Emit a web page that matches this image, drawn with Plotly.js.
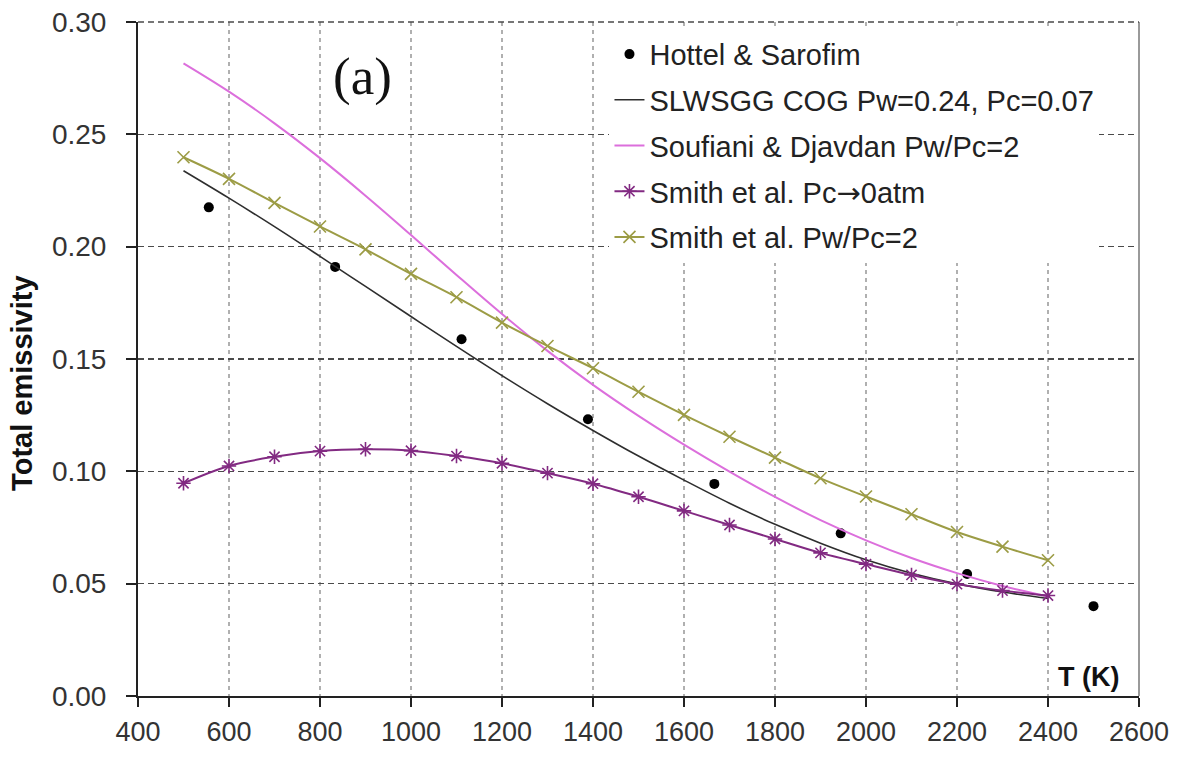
<!DOCTYPE html>
<html>
<head>
<meta charset="utf-8">
<script src="https://cdn.plot.ly/plotly-3.0.1.min.js"></script>
<style>html,body{margin:0;padding:0;background:#fff;}#chart{width:1196px;height:759px;}</style>
</head>
<body>
<div id="chart"></div>
<script>
// Temperatures (K)
const hottelT = [555.6, 833.3, 1111.1, 1388.9, 1666.7, 1944.4, 2222.2, 2500.0];
const hottelEps = [0.2175, 0.1910, 0.1588, 0.1232, 0.0944, 0.0724, 0.0543, 0.0400];

const curveT = [500, 600, 700, 800, 900, 1000, 1100, 1200, 1300, 1400, 1500, 1600, 1700, 1800, 1900, 2000, 2100, 2200, 2300, 2400];

const slwsggEps = [0.2338, 0.2216, 0.2089, 0.1957, 0.1823, 0.1689, 0.1556, 0.1426, 0.1301, 0.1182, 0.1068, 0.0961, 0.0858, 0.0764, 0.0680, 0.0606, 0.0546, 0.0499, 0.0463, 0.0434];
const soufianiEps = [0.2816, 0.2690, 0.2549, 0.2394, 0.2227, 0.2052, 0.1874, 0.1700, 0.1536, 0.1385, 0.1247, 0.1119, 0.0999, 0.0886, 0.0783, 0.0693, 0.0614, 0.0547, 0.0490, 0.0443];
const smithPc0Eps = [0.0947, 0.1024, 0.1065, 0.1090, 0.1098, 0.1092, 0.1068, 0.1036, 0.0992, 0.0945, 0.0887, 0.0824, 0.0761, 0.0699, 0.0637, 0.0587, 0.0539, 0.0498, 0.0469, 0.0447];
const smithRatioEps = [0.2398, 0.2302, 0.2195, 0.2090, 0.1988, 0.1879, 0.1775, 0.1662, 0.1558, 0.1459, 0.1354, 0.1251, 0.1154, 0.1061, 0.0969, 0.0888, 0.0809, 0.0730, 0.0665, 0.0604];

const seriesNames = [
  "Hottel & Sarofim",
  "SLWSGG COG Pw=0.24, Pc=0.07",
  "Soufiani & Djavdan Pw/Pc=2",
  "Smith et al. Pc<span style=\"font-family:'DejaVu Sans'\">\u2192</span>0atm",
  "Smith et al. Pw/Pc=2"
];

const xTicks = [400, 600, 800, 1000, 1200, 1400, 1600, 1800, 2000, 2200, 2400, 2600];
const yTicks = [0.00, 0.05, 0.10, 0.15, 0.20, 0.25, 0.30];

const traces = [
  {
    x: hottelT, y: hottelEps, name: seriesNames[0], mode: 'markers', legendgroup: 'g1',
    marker: {symbol: 'circle', size: 10, color: '#000000'}
  },
  {
    x: curveT, y: slwsggEps, name: seriesNames[1], mode: 'lines', legendgroup: 'g2',
    line: {color: '#2e2e2e', width: 1.6, shape: 'spline'}
  },
  {
    x: curveT, y: soufianiEps, name: seriesNames[2], mode: 'lines', legendgroup: 'g3',
    line: {color: '#dc6fdc', width: 2, shape: 'spline'}
  },
  {
    x: curveT, y: smithPc0Eps, name: seriesNames[3], mode: 'lines+markers', legendgroup: 'g4',
    line: {color: '#822a82', width: 2, shape: 'spline'},
    marker: {symbol: 'asterisk-open', size: 12, line: {color: '#8a2a8a', width: 1.6}}
  },
  {
    x: curveT, y: smithRatioEps, name: seriesNames[4], mode: 'lines+markers', legendgroup: 'g5',
    line: {color: '#9c9c45', width: 2, shape: 'spline'},
    marker: {symbol: 'x-thin-open', size: 12, line: {color: '#a8a840', width: 1.6}}
  }
];

const layout = {
  width: 1196, height: 759,
  margin: {l: 138, r: 57, t: 22, b: 63},
  paper_bgcolor: '#ffffff', plot_bgcolor: '#ffffff',
  font: {family: 'Liberation Sans, Arial, sans-serif', color: '#333333'},
  showlegend: true,
  legend: {
    x: 0.471, y: 0.99, xanchor: 'left', yanchor: 'top',
    bgcolor: '#ffffff', borderwidth: 0,
    font: {size: 29, color: '#222222', family: 'Liberation Sans, Arial, sans-serif'},
    traceorder: 'grouped', tracegroupgap: 5
  },
  xaxis: {
    range: [400, 2600], tickmode: 'array', tickvals: xTicks, ticktext: xTicks.map(String),
    showline: true, linecolor: '#222222', linewidth: 2,
    ticks: 'outside', ticklen: 9, tickcolor: '#222222', tickwidth: 2,
    tickfont: {size: 27, color: '#333333'}, ticklabelstandoff: 2,
    showgrid: true, gridcolor: '#b0b0b0', gridwidth: 1.3, griddash: '4px,4px',
    zeroline: false
  },
  yaxis: {
    range: [0, 0.30], tickmode: 'array', tickvals: yTicks, ticktext: yTicks.map(v => v.toFixed(2)),
    showline: true, linecolor: '#222222', linewidth: 2,
    ticks: 'outside', ticklen: 10, tickcolor: '#222222', tickwidth: 2,
    tickfont: {size: 28, color: '#333333'}, ticklabelstandoff: 14,
    showgrid: true, gridcolor: '#4a4a4a', gridwidth: 1.4, griddash: '6px,4px',
    zeroline: false,
    title: {text: '<b>Total emissivity</b>&nbsp;&nbsp;&nbsp;&nbsp;&nbsp;&nbsp;', font: {size: 29, color: '#111111'}, standoff: 11}
  },
  shapes: [
    {type: 'rect', xref: 'paper', yref: 'paper', x0: 0.452, x1: 0.996, y0: 0.639, y1: 0.991,
     layer: 'between', fillcolor: '#ffffff', line: {width: 0}},
    {type: 'line', xref: 'paper', yref: 'paper', x0: 1, x1: 1, y0: 0, y1: 1,
     line: {color: '#9a9a9a', width: 2}},
    {type: 'line', xref: 'paper', yref: 'paper', x0: 0, x1: 1, y0: 1, y1: 1,
     line: {color: '#4a4a4a', width: 1.4, dash: '6px,4px'}}
  ],
  annotations: [
    {text: '(a)', xref: 'paper', yref: 'paper', x: 0.224, y: 0.919, xanchor: 'center', yanchor: 'middle',
     showarrow: false, font: {family: 'Liberation Serif, Times New Roman, serif', size: 53, color: '#111111'}},
    {text: '<b>T (K)</b>', xref: 'paper', yref: 'paper', x: 0.95, y: 0.028, xanchor: 'center', yanchor: 'middle',
     showarrow: false, font: {size: 27, color: '#111111'}}
  ]
};

Plotly.newPlot('chart', traces, layout, {displayModeBar: false, staticPlot: true});
</script>
</body>
</html>
